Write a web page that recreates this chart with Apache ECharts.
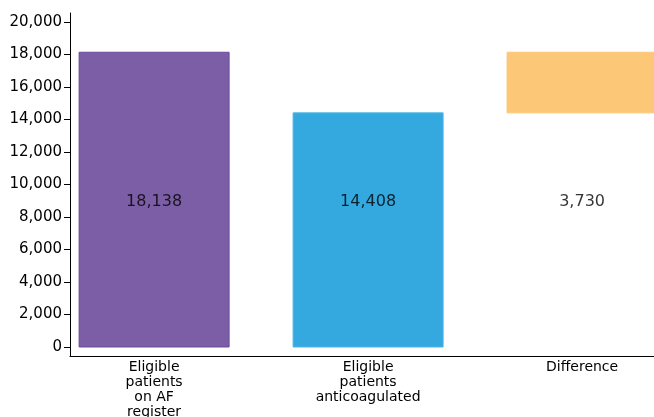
<!DOCTYPE html>
<html><head><meta charset="utf-8">
<script src="https://cdn.jsdelivr.net/npm/echarts@6/dist/echarts.min.js"></script>
<style>html,body{margin:0;padding:0;background:#fff}#c{width:654px;height:417px}</style>
</head><body><div id="c"></div>
<script>
const categories = ["Eligible\npatients\non AF\nregister", "Eligible\npatients\nanticoagulated", "Difference"];
const barValues = [18138, 14408, 3730];
const barBases = [0, 0, 14408];
const barColors = ["#7b5ea6", "#33a9e0", "#fcc776"];
const barBorders = ["#6a4b9b", "#4cb6e6", "#fcc776"];
const yTicks = [0, 2000, 4000, 6000, 8000, 10000, 12000, 14000, 16000, 18000, 20000];
const labelLevel = 8930;

const FONT = 'DejaVu Sans, sans-serif';
const fmt = v => v.toLocaleString('en-US');
const chart = echarts.init(document.getElementById('c'), null, {renderer: 'canvas'});
const xIdx = categories.map((_, i) => i);
const BAR_W = 150;
chart.setOption({
  animation: false,
  grid: {left: 70, right: 0, top: 13, bottom: 61, containLabel: false, outerBoundsMode: 'none'},
  xAxis: {
    type: 'value', min: -0.393, max: 2.336,
    splitLine: {show: false},
    axisLine: {show: true, onZero: false, lineStyle: {color: '#000', width: 1}},
    axisTick: {show: false, customValues: xIdx},
    axisLabel: {
      customValues: xIdx, margin: 4,
      formatter: v => categories[Math.round(v)],
      color: '#000', fontSize: 14, lineHeight: 15, fontFamily: FONT
    }
  },
  yAxis: {
    type: 'value', min: -554, max: 20554,
    splitLine: {show: false},
    axisLine: {show: true, onZero: false, lineStyle: {color: '#000', width: 1}},
    axisTick: {show: true, length: 6, customValues: yTicks, lineStyle: {color: '#000'}},
    axisLabel: {
      customValues: yTicks, margin: 8, formatter: v => fmt(v),
      color: '#000', fontSize: 15, fontFamily: FONT
    }
  },
  series: [
    {
      type: 'custom',
      data: barValues.map((v, i) => [i, barBases[i], barBases[i] + v]),
      renderItem: (params, api) => {
        const i = api.value(0);
        const p0 = api.coord([i, api.value(1)]);
        const p1 = api.coord([i, api.value(2)]);
        return {
          type: 'rect',
          shape: {x: p0[0] - BAR_W / 2, y: p1[1], width: BAR_W, height: p0[1] - p1[1]},
          style: {fill: barColors[params.dataIndex], stroke: barBorders[params.dataIndex], lineWidth: 1}
        };
      }
    },
    {
      type: 'scatter', symbolSize: 0,
      data: barValues.map((v, i) => [i, labelLevel]),
      label: {
        show: true, position: 'inside',
        formatter: p => fmt(barValues[p.dataIndex]),
        color: '#000', fontSize: 16, fontFamily: FONT
      }
    }
  ]
});
</script></body></html>
